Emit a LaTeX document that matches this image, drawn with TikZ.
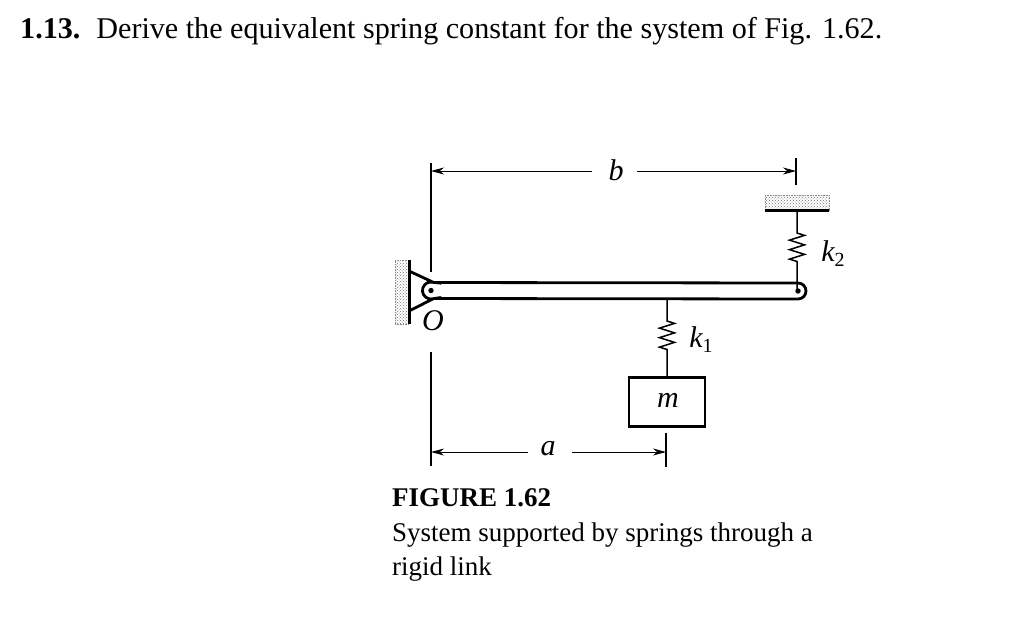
\documentclass[tikz,border=0pt]{standalone}
\usepackage{fontspec}
\setmainfont{Liberation Serif}
\usetikzlibrary{arrows.meta,decorations.pathmorphing,patterns}

\newcommand{\subidx}[1]{\raisebox{-5pt}{\fontsize{20}{22}\selectfont\upshape #1}}

\tikzset{
    dimline/.style={line width=0.8pt, -{Stealth[length=13pt,width=7pt]}},
    extline/.style={line width=1.3pt},
    wallhatch/.style={pattern=crosshatch dots, pattern color=black!55, draw=black!45, densely dotted, line width=0.6pt},
    wallline/.style={line width=3.4pt},
    barline/.style={line width=2.8pt},
    spring/.style={line width=1.5pt, decorate, decoration={zigzag, segment length=9.5pt, amplitude=7.5pt, pre length=22pt, post length=24pt}},
    label/.style={inner sep=0pt, font=\fontsize{30}{32}\selectfont\itshape},
    caption/.style={anchor=west, inner sep=0pt, font=\fontsize{27}{30}\selectfont}
}

\begin{document}
\begin{tikzpicture}[x=1pt,y=-1pt]
    \useasboundingbox (0,0) rectangle (1024,619);

    % Problem statement and caption
    \node[anchor=west, inner sep=0pt, font=\fontsize{30.1}{34}\selectfont] (title) at (20,31.5) {\textbf{1.13.}\hspace{6pt} Derive the equivalent spring constant for the system of Fig. 1.62.};
    \node[caption] (figno) at (392,498) {\textbf{FIGURE 1.62}};
    \node[caption] (capa) at (392,535) {System supported by springs through a};
    \node[caption] (capb) at (392,569) {rigid link};

    % Fixed supports
    \node[wallhatch, minimum width=14pt, minimum height=64pt, inner sep=0pt] (wall) at (402,292) {};
    \node[wallhatch, minimum width=64pt, minimum height=15pt, inner sep=0pt] (ceiling) at (797,202.5) {};
    \draw[wallline] (wall.north east) -- (wall.south east);
    \draw[wallline] (ceiling.south west) -- (ceiling.south east);

    % Pin and rigid link
    \coordinate (pin) at (431,290.5);
    \coordinate (tip) at (798,291);
    \coordinate (lugA) at (409,271);
    \coordinate (lugB) at (409,311);
    \draw[barline] (lugA) -- (433.5,282.4) arc[start angle=-72.6, end angle=-287.4, radius=8.5] -- (lugB);
    \draw[barline] (433.5,282.5) -- (798,283) arc[start angle=-90, end angle=90, radius=8] -- (433.5,298.5);
    \fill (pin) circle (2.7);
    \fill (tip) circle (2.7);

    % Springs and mass
    \node[draw, line width=2.8pt, minimum width=76pt, minimum height=49pt, inner sep=0pt] (mass) at (667,402) {};
    \node[label] (mlabel) at (668,400) {m};
    \coordinate (linkBot) at (667,299);
    \coordinate (ceilBot) at (797,211);
    \coordinate (tipTop) at (797,290);
    \draw[spring] (linkBot) -- (mass.north -| linkBot);
    \draw[spring, decoration={pre length=22pt, post length=28pt}] (ceilBot) -- (tipTop);
    \node[label] (kone) at (701,340) {k\subidx{1}};
    \node[label] (ktwo) at (833,254) {k\subidx{2}};
    \node[label] (pinlabel) at (433,321) {O};

    % Dimension lines
    \coordinate (extA) at (431,163);
    \coordinate (extB) at (431,272);
    \coordinate (extC) at (431,352);
    \coordinate (extD) at (431,466);
    \coordinate (tickA) at (796,158);
    \coordinate (tickB) at (796,185);
    \coordinate (tickC) at (666,433);
    \coordinate (tickD) at (666,467);
    \draw[extline] (extA) -- (extB);
    \draw[extline] (extC) -- (extD);
    \draw[extline] (tickA) -- (tickB);
    \draw[extline] (tickC) -- (tickD);
    \node[label] (blabel) at (616,170) {b};
    \node[label] (alabel) at (548,449) {a};
    \coordinate (bleft) at (431,171);
    \coordinate (bright) at (796,171);
    \coordinate (aleft) at (431,452);
    \coordinate (aright) at (666,452);
    \draw[dimline] (592,171) -- (bleft);
    \draw[dimline] (637,171) -- (bright);
    \draw[dimline] (528,452) -- (aleft);
    \draw[dimline] (572,452) -- (aright);
\end{tikzpicture}
\end{document}
